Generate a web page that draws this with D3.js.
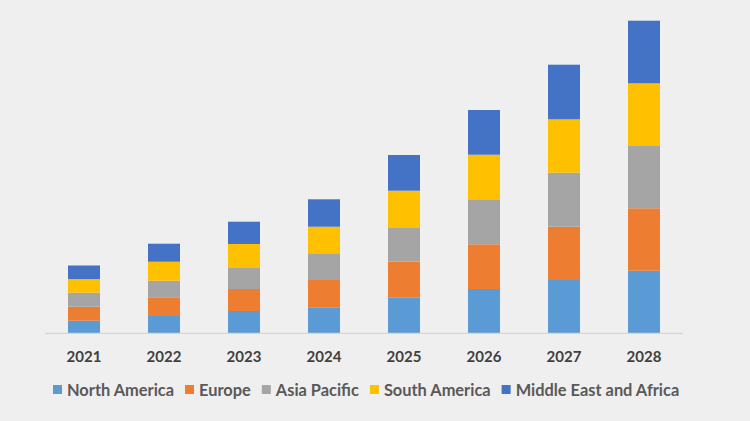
<!DOCTYPE html>
<html>
<head>
<meta charset="utf-8">
<script src="https://cdn.jsdelivr.net/npm/d3@7"></script>
<style>
  html, body { margin: 0; padding: 0; background: #efefef; }
  svg { display: block; }
</style>
</head>
<body>
<svg id="chart" width="750" height="421"></svg>
<script>
const years = ["2021", "2022", "2023", "2024", "2025", "2026", "2027", "2028"];
const seriesNames = ["North America", "Europe", "Asia Pacific", "South America", "Middle East and Africa"];
const seriesColors = ["#5b9bd5", "#ed7d31", "#a5a5a5", "#ffc000", "#4472c4"];
const northAmerica = [12.6, 17.3, 22.3, 26.0, 35.6, 44.3, 53.3, 62.6];
const europe       = [14.0, 18.7, 22.0, 27.3, 36.0, 44.7, 53.3, 62.4];
const asiaPacific  = [14.0, 16.6, 21.7, 26.7, 34.4, 45.0, 54.0, 62.3];
const southAmerica = [13.6, 19.0, 23.3, 26.6, 36.6, 44.6, 53.4, 62.7];
const mea          = [13.6, 18.0, 22.3, 27.4, 35.7, 44.7, 54.6, 62.6];

const seriesValues = [northAmerica, europe, asiaPacific, southAmerica, mea];
const table = years.map((y, i) => {
  const row = { year: y };
  seriesNames.forEach((s, k) => row[s] = seriesValues[k][i]);
  return row;
});

const svg = d3.select("#chart");
const x = d3.scaleBand().domain(years).range([44, 684]).paddingInner(0.6).paddingOuter(0.3);
const y = d3.scaleLinear().domain([0, 320]).range([333.3, 13.3]);

const stacked = d3.stack().keys(seriesNames)(table);
const color = d3.scaleOrdinal().domain(seriesNames).range(seriesColors);

svg.append("g").selectAll("g")
  .data(stacked).join("g")
  .attr("fill", d => color(d.key))
  .selectAll("rect")
  .data(d => d).join("rect")
  .attr("x", d => x(d.data.year))
  .attr("width", x.bandwidth())
  .attr("y", d => y(d[1]))
  .attr("height", d => y(d[0]) - y(d[1]));

// x axis
const xAxis = svg.append("g").attr("transform", `translate(0,${y(0)})`)
  .call(d3.axisBottom(x).tickSize(0).tickPadding(18));
xAxis.select(".domain").attr("stroke", "#d4d4d4").attr("stroke-width", 1.2)
  .attr("d", "M45,0H683");
xAxis.selectAll("text")
  .attr("font-family", "Lato, 'Open Sans', sans-serif")
  .attr("font-weight", "bold")
  .attr("font-size", 15)
  .attr("fill", "#404040");

// legend
const legend = svg.append("g").attr("transform", "translate(0,390)");
let lx = 53;
seriesNames.forEach((s, i) => {
  const g = legend.append("g").attr("transform", `translate(${lx},0)`);
  g.append("rect").attr("x", 0).attr("y", -5).attr("width", 9).attr("height", 9).attr("fill", seriesColors[i]);
  const t = g.append("text").attr("x", 14).attr("y", 6)
    .attr("font-family", "Lato, 'Open Sans', sans-serif")
    .attr("font-weight", "bold")
    .attr("font-size", 16.4)
    .attr("fill", "#595959")
    .text(s);
  lx += 14 + t.node().getComputedTextLength() + 11;
});
</script>
</body>
</html>
